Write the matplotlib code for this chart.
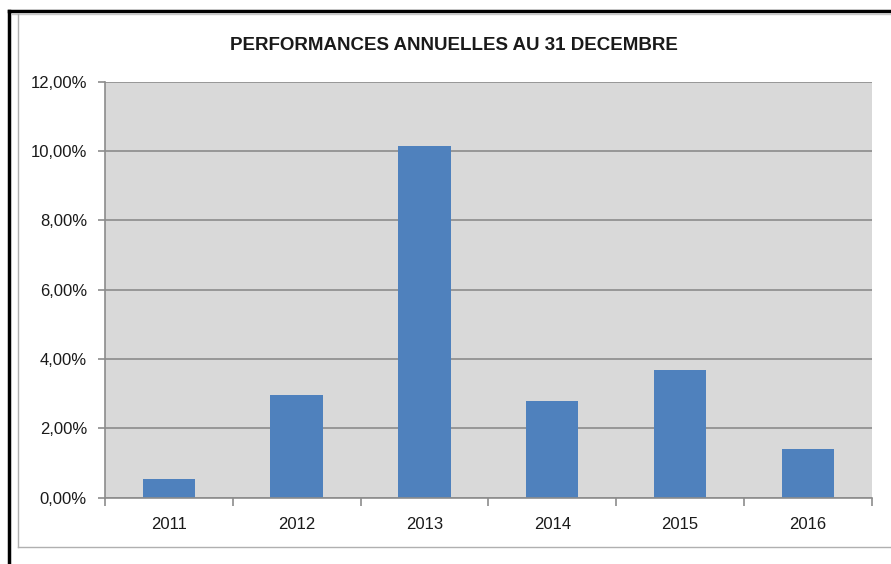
import matplotlib.pyplot as plt
from matplotlib.ticker import FuncFormatter, MultipleLocator, FixedLocator
from matplotlib.lines import Line2D

years = ['2011', '2012', '2013', '2014', '2015', '2016']
perf = [0.53, 2.96, 10.14, 2.79, 3.68, 1.40]  # in %

plt.rcParams['font.family'] = ['Liberation Sans', 'DejaVu Sans']

fig = plt.figure(figsize=(8.91, 5.64), dpi=100)
fig.patch.set_facecolor('white')

# screenshot frame: black borders + light grey chart-area border
fig.add_artist(Line2D([0.010, 0.010], [0, 0.981], transform=fig.transFigure, color='black', lw=2.5))
fig.add_artist(Line2D([0.010, 1.0], [0.981, 0.981], transform=fig.transFigure, color='black', lw=2.5))
fig.add_artist(Line2D([0.013, 1.0], [0.976, 0.976], transform=fig.transFigure, color='#c8c8c8', lw=1))
fig.add_artist(Line2D([0.020, 0.020], [0.030, 0.976], transform=fig.transFigure, color='#b0b0b0', lw=1))
fig.add_artist(Line2D([0.020, 1.0], [0.030, 0.030], transform=fig.transFigure, color='#b0b0b0', lw=1))

ax = fig.add_axes([0.1178, 0.1176, 0.8605, 0.7375])
ax.set_facecolor('#d9d9d9')

x = list(range(len(years)))
ax.bar(x, perf, width=0.41, color='#4f81bd', zorder=3)

ax.set_xlim(-0.5, len(years) - 0.5)
ax.set_ylim(0, 12)
ax.yaxis.set_major_locator(MultipleLocator(2))
ax.yaxis.set_major_formatter(FuncFormatter(lambda v, p: f'{v:.2f}'.replace('.', ',') + '%'))
ax.grid(axis='y', color='#8c8c8c', lw=1.2, zorder=1)

ax.set_xticks(x)
ax.set_xticklabels(years)
ax.xaxis.set_minor_locator(FixedLocator([i - 0.5 for i in range(len(years) + 1)]))
ax.tick_params(axis='x', which='major', length=0, pad=14, labelsize=12, labelcolor='#1a1a1a')
ax.tick_params(axis='x', which='minor', length=6, color='#8c8c8c', width=1.2)
ax.tick_params(axis='y', length=5, color='#8c8c8c', width=1.2, labelsize=12, labelcolor='#1a1a1a', pad=8)

for s in ['top', 'right']:
    ax.spines[s].set_visible(False)
for s in ['left', 'bottom']:
    ax.spines[s].set_color('#8c8c8c')
    ax.spines[s].set_linewidth(1.2)
    ax.spines[s].set_zorder(4)

fig.text(0.51, 0.92, 'PERFORMANCES ANNUELLES AU 31 DECEMBRE', ha='center', va='center',
         fontsize=13.5, fontweight='bold', color='#1a1a1a')

fig.savefig('out.png', dpi=100)
